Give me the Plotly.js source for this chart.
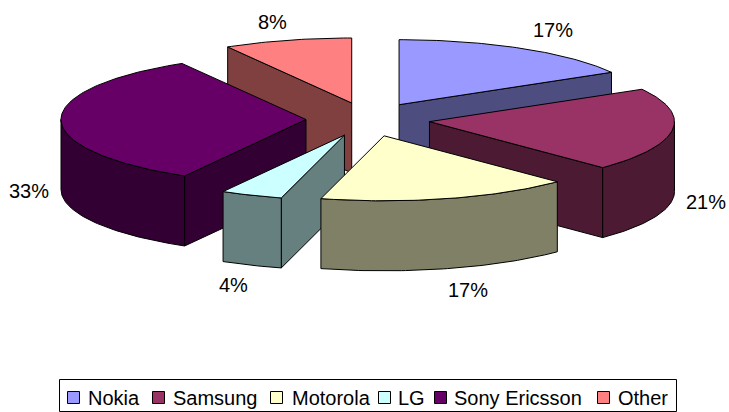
<!DOCTYPE html>
<html><head><meta charset="utf-8">
<script src="https://cdn.plot.ly/plotly-3.0.1.min.js"></script>
<style>html,body{margin:0;padding:0;background:#fff}</style></head>
<body><div id="chart" style="width:729px;height:412px"></div>
<script>
const categories = ["Nokia","Samsung","Motorola","LG","Sony Ericsson","Other"];
const shares = [16.7,20.8,16.65,4.1,33.3,8.45];
const topColors = ["#9999FF","#993366","#FFFFCC","#CCFFFF","#660066","#FF8080"];
const sideColors = ["#4D4D80","#4D1A33","#808066","#668080","#330033","#804040"];
const paintOrder = [5,0,4,1,3,2];
const labelAnchors = [[553,30],[706,202],[468,290],[233,285],[29,191],[272,22]];
const swatchCentres = [73.5,158.5,276.5,384.5,440.5,603.5];
const legendTextStarts = [88,173,292,398,454,618];

const cx=368, cy=119.4, rx=245, ry=65, depth=70, ex=62, ey=17;
const rad=d=>d*Math.PI/180;
const traces=[];
let acc=0;
const slices=shares.map(v=>{const s={a0:acc*3.6,a1:(acc+v)*3.6};acc+=v;return s;});
function face(xs,ys,fill){traces.push({type:"scatter",mode:"lines",x:xs.concat(xs[0]),y:ys.concat(ys[0]),
  fill:"toself",fillcolor:fill,line:{color:"#000",width:1},showlegend:false,hoverinfo:"skip"});}
paintOrder.forEach(i=>{
  const s=slices[i], mid=(s.a0+s.a1)/2;
  const ax=cx+ex*Math.sin(rad(mid)), ay=cy-ey*Math.cos(rad(mid));
  const pt=a=>[ax+rx*Math.sin(rad(a)), ay-ry*Math.cos(rad(a))];
  const n=Math.max(8,Math.ceil(s.a1-s.a0)); const arc=[];
  for(let k=0;k<=n;k++)arc.push(s.a0+(s.a1-s.a0)*k/n);
  // radial walls that face the viewer
  [[s.a0,-1],[s.a1,1]].forEach(([a,sgn])=>{
    const p=pt(a);
    const facing = (sgn>0) ? (Math.sin(rad(a))>0) : (Math.sin(rad(a))<0);
    if(facing) face([ax,p[0],p[0],ax],[ay,p[1],p[1]+depth,ay+depth],sideColors[i]);
  });
  // outer wall on the near half of the rim
  const lo=Math.max(s.a0,90), hi=Math.min(s.a1,270);
  if(hi>lo){
    const m=Math.max(6,Math.ceil(hi-lo)); const r=[];
    for(let k=0;k<=m;k++)r.push(lo+(hi-lo)*k/m);
    const tx=r.map(a=>pt(a)[0]), ty=r.map(a=>pt(a)[1]);
    const bx=tx.slice().reverse(), by=ty.slice().reverse().map(y=>y+depth);
    face(tx.concat(bx),ty.concat(by),sideColors[i]);
  }
  // top
  face([ax].concat(arc.map(a=>pt(a)[0])),[ay].concat(arc.map(a=>pt(a)[1])),topColors[i]);
});
const legendY=397.5;
traces.push({type:"scatter",mode:"markers",x:swatchCentres,y:categories.map(()=>legendY),text:categories,
  marker:{symbol:"square",size:12,color:topColors,line:{color:"#000",width:1}},showlegend:false,hoverinfo:"skip"});
const font={family:"Liberation Sans",size:20,color:"#000"};
const annotations=shares.map((v,i)=>({x:labelAnchors[i][0],y:labelAnchors[i][1],xref:"x",yref:"y",
  text:Math.round(v)+"%",showarrow:false,font}));
categories.forEach((c,i)=>annotations.push({x:legendTextStarts[i],y:legendY,xref:"x",yref:"y",xanchor:"left",
  text:c,showarrow:false,font,xshift:-2}));
const hidden={visible:false,fixedrange:true};
Plotly.newPlot("chart",traces,{
  width:729,height:412,margin:{l:0,r:0,t:0,b:0},paper_bgcolor:"#fff",plot_bgcolor:"#fff",showlegend:false,
  xaxis:{...hidden,range:[0,729]},yaxis:{...hidden,range:[412,0]},
  annotations,
  shapes:[{type:"rect",xref:"x",yref:"y",x0:59.5,x1:676.5,y0:379.5,y1:411.5,line:{color:"#000",width:1},fillcolor:"#fff",layer:"below"}]
},{displayModeBar:false,staticPlot:true});
</script></body></html>
